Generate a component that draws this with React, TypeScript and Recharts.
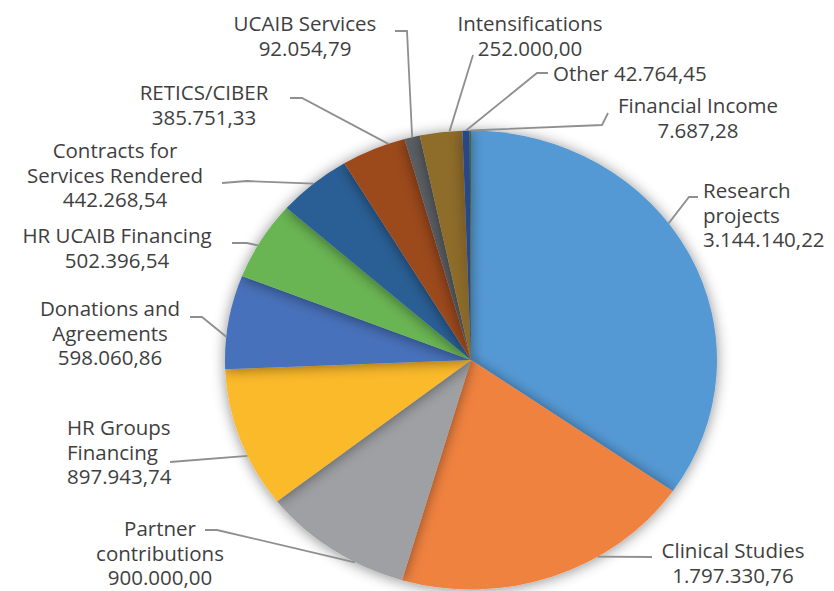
import React from 'react';
import { PieChart, Pie, Cell } from 'recharts';

const CATEGORIES = [
  'Research projects',
  'Clinical Studies',
  'Partner contributions',
  'HR Groups Financing',
  'Donations and Agreements',
  'HR UCAIB Financing',
  'Contracts for Services Rendered',
  'RETICS/CIBER',
  'UCAIB Services',
  'Intensifications',
  'Other',
  'Financial Income',
];

const VALUES = [
  3144140.22, 1797330.76, 900000.0, 897943.74, 598060.86, 502396.54,
  442268.54, 385751.33, 92054.79, 252000.0, 42764.45, 7687.28,
];

// wrapped label text lines (value line is appended from VALUES)
const LABEL_LINES: string[][] = [
  ['Research', 'projects'],
  ['Clinical Studies'],
  ['Partner', 'contributions'],
  ['HR Groups', 'Financing'],
  ['Donations and', 'Agreements'],
  ['HR UCAIB Financing'],
  ['Contracts for', 'Services Rendered'],
  ['RETICS/CIBER'],
  ['UCAIB Services'],
  ['Intensifications'],
  ['Other'],
  ['Financial Income'],
];
const INLINE_VALUE = [false, false, false, false, false, false, false, false, false, false, true, false];

const COLORS = [
  '#5599D4', '#F08240', '#9EA0A4', '#FBBA2C', '#4671BA', '#6AB552',
  '#2A5F95', '#9C4A1F', '#5A5E64', '#8E6C2A', '#2A4A8A', '#43682B',
];

// label placement (layout only)
type Layout = { x: number; y: number; anchor: 'start' | 'middle' | 'end'; pts: number[][]; adj: number };
const LAYOUT: Layout[] = [
  { x: 703, y: 190, anchor: 'start', pts: [[698, 197], [689, 197]], adj: 9 },
  { x: 733, y: 550, anchor: 'middle', pts: [[652, 557]], adj: 11.6 },
  { x: 160, y: 528, anchor: 'middle', pts: [[205, 530], [217, 530]], adj: 6 },
  { x: 67, y: 427, anchor: 'start', pts: [[170, 462]], adj: 4.6 },
  { x: 110, y: 308, anchor: 'middle', pts: [[190, 317], [202, 317]], adj: 3.8 },
  { x: 117, y: 235, anchor: 'middle', pts: [[232, 243], [247, 243]], adj: 1.5 },
  { x: 115, y: 150, anchor: 'middle', pts: [[222, 183], [247, 181]], adj: 0 },
  { x: 204, y: 92, anchor: 'middle', pts: [[290, 98], [302, 98]], adj: -3.7 },
  { x: 305, y: 23, anchor: 'middle', pts: [[395, 31], [407, 31]], adj: 0 },
  { x: 530, y: 23, anchor: 'middle', pts: [[473, 55]], adj: -2 },
  { x: 553, y: 73, anchor: 'start', pts: [[548, 73], [537, 73]], adj: 0 },
  { x: 698, y: 105, anchor: 'middle', pts: [[608, 113], [602, 125]], adj: 0 },
];

const K = 229.5 / 246; // vertical squash of the pie (tilted look)
const LINE_H = 24.5;
const RAD = Math.PI / 180;

const fmt = (v: number) => {
  const [i, d] = v.toFixed(2).split('.');
  return i.replace(/\B(?=(\d{3})+(?!\d))/g, '.') + ',' + d;
};

const data = CATEGORIES.map((name, i) => ({ name, value: VALUES[i] }));

const EllipseSector = (props: any) => {
  const { cx, cy, outerRadius, startAngle, endAngle, fill } = props;
  const rx = outerRadius;
  const ry = outerRadius * K;
  const x1 = cx + rx * Math.cos(startAngle * RAD);
  const y1 = cy - ry * Math.sin(startAngle * RAD);
  const x2 = cx + rx * Math.cos(endAngle * RAD);
  const y2 = cy - ry * Math.sin(endAngle * RAD);
  const delta = Math.abs(endAngle - startAngle);
  const large = delta > 180 ? 1 : 0;
  const sweep = startAngle > endAngle ? 1 : 0;
  const d = `M${cx},${cy} L${x1},${y1} A${rx},${ry} 0 ${large} ${sweep} ${x2},${y2} Z`;
  return <path d={d} fill={fill} stroke="none" filter="url(#sliceShadow)" />;
};

const renderLabel = (props: any) => {
  const { cx, cy, midAngle, outerRadius, index, value } = props;
  const lay = LAYOUT[index];
  const a = (midAngle + lay.adj) * RAD;
  const ex = cx + outerRadius * Math.cos(a);
  const ey = cy - outerRadius * K * Math.sin(a);
  const pts = [...lay.pts, [ex, ey]].map((p) => p.join(',')).join(' ');
  const lines = INLINE_VALUE[index]
    ? [LABEL_LINES[index].join(' ') + ' ' + fmt(value)]
    : [...LABEL_LINES[index], fmt(value)];
  return (
    <g key={`lbl-${index}`}>
      <polyline points={pts} fill="none" stroke="#8F8F8F" strokeWidth={1.8} />
      <text
        x={lay.x}
        y={lay.y}
        textAnchor={lay.anchor}
        fontFamily="'Open Sans', sans-serif"
        fontSize={20.5}
        fill="#3F3F3F"
      >
        {lines.map((t, li) => (
          <tspan key={li} x={lay.x} y={lay.y + li * LINE_H} dominantBaseline="central">
            {t}
          </tspan>
        ))}
      </text>
    </g>
  );
};

export default function App() {
  return (
    <div style={{ position: 'absolute', left: 0, top: 0, width: 834, height: 591, background: '#fff', overflow: 'hidden' }}>
      <svg width={0} height={0} style={{ position: 'absolute' }}>
        <defs>
          <filter id="sliceShadow" filterUnits="userSpaceOnUse" x={0} y={0} width={834} height={640}>
            <feDropShadow dx={0} dy={1} stdDeviation={7} floodColor="#000" floodOpacity={0.45} />
          </filter>
        </defs>
      </svg>
      <PieChart width={834} height={591} margin={{ top: 0, right: 0, bottom: 0, left: 0 }}>
        <Pie
          data={data}
          dataKey="value"
          nameKey="name"
          cx={471}
          cy={360}
          outerRadius={246}
          startAngle={90}
          endAngle={-270}
          stroke="none"
          isAnimationActive={false}
          shape={EllipseSector}
          label={renderLabel}
          labelLine={false}
        >
          {data.map((_, i) => (
            <Cell key={i} fill={COLORS[i]} />
          ))}
        </Pie>
      </PieChart>
    </div>
  );
}
